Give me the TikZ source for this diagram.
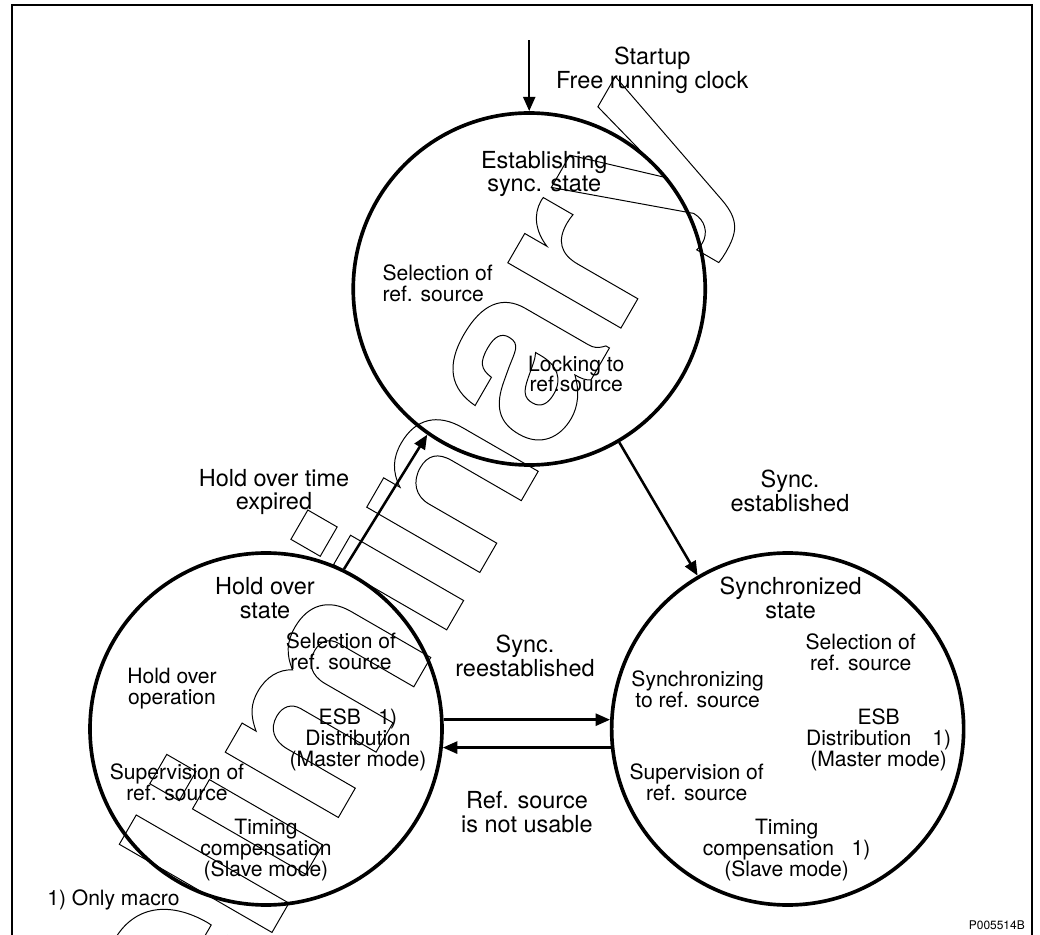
\documentclass[tikz,border=0pt]{standalone}
\usepackage{fontspec}
\setmainfont{TeX Gyre Heros}
\usepackage{tikz}
\usetikzlibrary{positioning, arrows.meta, calc}
\newcommand{\outl}[1]{\special{pdf:literal direct 1 Tr 0.7 w}#1\special{pdf:literal direct 0 Tr}}

\begin{document}
\begin{tikzpicture}[
  state/.style={draw, circle, line width=2.6pt, minimum size=8.8cm, inner sep=0pt},
  lbl/.style={font=\fontsize{16.7}{17}\selectfont, align=center, inner sep=0pt},
  sub/.style={font=\fontsize{15}{14.9}\selectfont, align=center, inner sep=0pt},
  trans/.style={-{Triangle[length=3.6mm,width=3mm]}, line width=1.8pt}]
\useasboundingbox (-6.65,-5.15) rectangle (19.35,18.225);
\draw[line width=0.8pt] (-6.35,-5.15) |- (19.15,18.1) -- (19.15,-5.15);
\node[state] (hold) at (0,0) {};
\node[state, right=4.15cm of hold] (sync) {};
\node[state] (est) at ($(hold)!0.5!(sync)+(0.06,11)$) {};
\node[rotate=60, anchor=base, inner sep=0pt, font=\fontsize{172}{172}\selectfont\bfseries] (wmark) at (3.34,0.44) {\outl{Preliminary}};
\node[lbl] (estname) at ([xshift=0.375cm,yshift=2.875cm]est.center) {Establishing\\sync. state};
\node[sub, anchor=west, align=left] (estsel) at ([xshift=-3.675cm,yshift=0.15cm]est.center) {Selection of\\ref. source};
\node[sub] (estlock) at ([xshift=1.175cm,yshift=-2.125cm]est.center) {Locking to\\ref.source};
\node[lbl] (holdname) at ([xshift=-0.025cm,yshift=3.275cm]hold.center) {Hold over\\state};
\node[sub] (holdsel) at ([xshift=1.875cm,yshift=1.95cm]hold.center) {Selection of\\ref. source};
\node[sub] (holdop) at ([xshift=-2.35cm,yshift=1cm]hold.center) {Hold over\\operation};
\node[sub] (holdesb) at ([xshift=2.3cm,yshift=-0.275cm]hold.center) {ESB\ \ \ 1)\\Distribution\\(Master mode)};
\node[sub] (holdsup) at ([xshift=-2.225cm,yshift=-1.325cm]hold.center) {Supervision of\\ref. source};
\node[sub] (holdtim) at ([yshift=-3.025cm]hold.center) {Timing\\compensation\\(Slave mode)};
\node[lbl] (syncname) at ([xshift=0.075cm,yshift=3.275cm]sync.center) {Synchronized\\state};
\node[sub] (syncsel) at ([xshift=1.825cm,yshift=1.925cm]sync.center) {Selection of\\ref. source};
\node[sub] (syncto) at ([xshift=-2.25cm,yshift=1cm]sync.center) {Synchronizing\\to ref. source};
\node[sub] (syncesb) at ([xshift=2.275cm,yshift=-0.275cm]sync.center) {ESB\\Distribution\quad1)\\(Master mode)};
\node[sub] (syncsup) at ([xshift=-2.275cm,yshift=-1.325cm]sync.center) {Supervision of\\ref. source};
\node[sub] (synctim) at ([xshift=-0.025cm,yshift=-3.025cm]sync.center) {Timing\\compensation\ \ \ 1)\\(Slave mode)};
\coordinate (init) at ([yshift=1.775cm]est.north);
\node[lbl] (startup) at ([xshift=3.075cm,yshift=5.475cm]est.center) {Startup\\Free running clock};
\node[lbl] (expired) at (0.2,5.925) {Hold over time\\expired};
\node[lbl] (established) at (13.1,5.95) {Sync.\\established};
\node[lbl] (reestablished) at (6.475,1.825) {Sync.\\reestablished};
\node[lbl] (notusable) at (6.525,-2.075) {Ref. source\\is not usable};
\node[sub, anchor=west] (note) at (-5.475,-4.275) {1) Only macro};
\node[anchor=east, inner sep=0pt, font=\fontsize{8.5}{9}\selectfont] (figid) at (18.975,-4.9) {P005514B};
\draw[trans] (init) -- (est.north);
\draw[trans] (est) -- (sync);
\draw[trans] (hold.64) -- (est.235);
\draw[trans] (hold.3) -- (sync.177);
\draw[trans] (sync.186) -- (hold.-6);
\end{tikzpicture}
\end{document}
